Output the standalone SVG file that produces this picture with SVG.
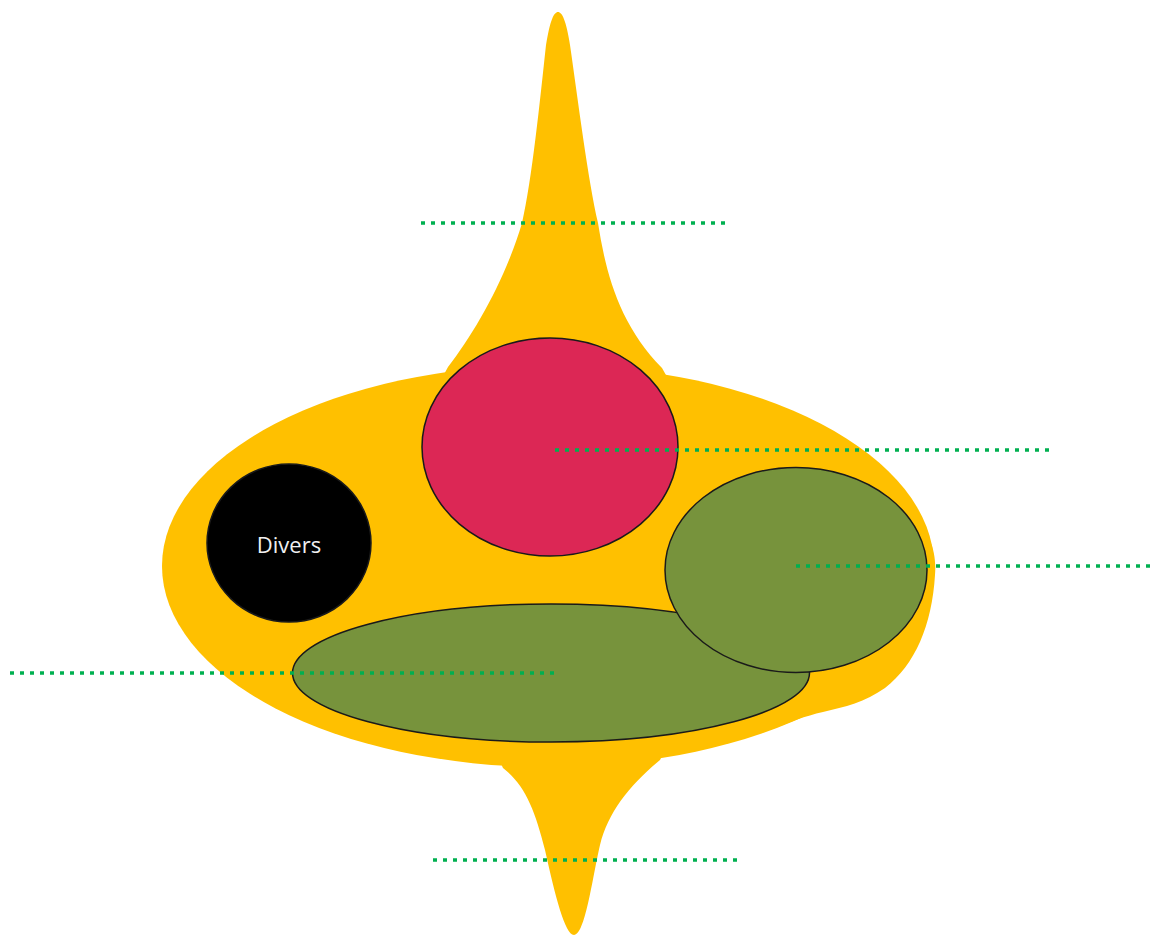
<svg xmlns="http://www.w3.org/2000/svg" width="1150" height="936" viewBox="0 0 1150 936">
<style>
.body{fill:#FFC000;stroke:none}
.node{stroke:#1a1a1a;stroke-width:1.5}
.guide{stroke:#00B050;stroke-width:3.5;stroke-dasharray:4 6;fill:none}
.lbl{font-family:"Open Sans","Noto Sans","DejaVu Sans",sans-serif;font-size:22px;font-weight:500;fill:#F0F0F0;text-anchor:middle}
</style>
<g id="body">
<ellipse class="body" cx="548" cy="566" rx="386" ry="201"/>
<path class="body" d="M430,400 L448,367 C475,332 505,280 522,223 C532,180 540,100 546,45 C550,20 554,12 558,12 C562,12 566,20 570,45 C578,100 588,180 598,223 C606,275 620,325 662,368 L680,400 Z"/>
<path class="body" d="M490,740 L503,768 C525,785 535,810 545,850 C555,895 565,935 574,935 C585,935 592,880 600,845 C608,812 630,785 660,760 L670,740 Z"/>
<path class="body" d="M900,500 C930,530 937,550 935,575 C932,625 915,665 885,688 C865,702 845,707 823,712 C805,716 790,722 770,730 L760,700 Z"/>
</g>
<g id="node-red">
<ellipse class="node" cx="550" cy="447" rx="128" ry="109" fill="#DC2755"/>
</g>
<g id="node-divers">
<ellipse class="node" cx="289" cy="543" rx="82" ry="79" fill="#000000"/>
<text class="lbl" x="289" y="553">Divers</text>
</g>
<g id="node-green-bottom">
<ellipse class="node" cx="551" cy="673" rx="258.5" ry="69" fill="#77933C"/>
</g>
<g id="node-green-right">
<ellipse class="node" cx="796" cy="570" rx="131" ry="102.5" fill="#77933C"/>
</g>
<g id="connectors">
<line class="guide" x1="421" y1="223" x2="727" y2="223"/>
<line class="guide" x1="555" y1="450" x2="1050" y2="450"/>
<line class="guide" x1="796" y1="566" x2="1150" y2="566"/>
<line class="guide" x1="10" y1="673" x2="555" y2="673"/>
<line class="guide" x1="433" y1="860" x2="739" y2="860"/>
</g>
</svg>
